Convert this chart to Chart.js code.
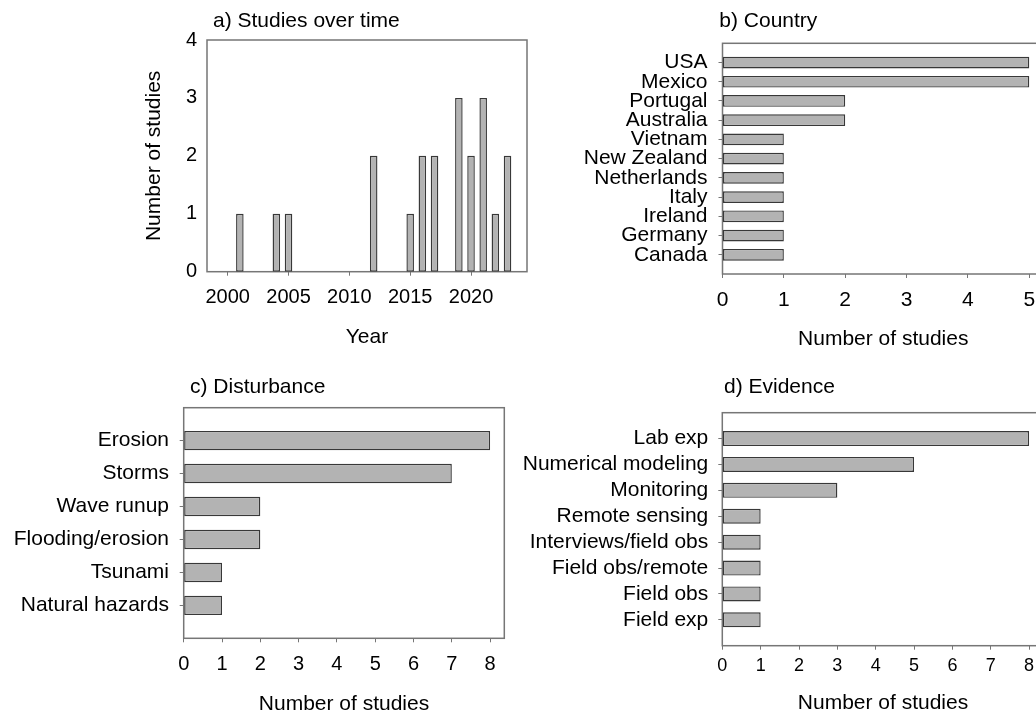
<!DOCTYPE html>
<html>
<head>
<meta charset="utf-8">
<title>Studies overview</title>
<script src="https://cdn.jsdelivr.net/npm/chart.js@4/dist/chart.umd.min.js"></script>
<style>
  html, body { margin: 0; padding: 0; width: 1036px; height: 714px; overflow: hidden; background: #fff; }
  canvas { position: absolute; left: 0; top: 0; }
</style>
</head>
<body>
<canvas id="panelA" width="1060" height="740"></canvas>
<canvas id="panelB" width="1060" height="740"></canvas>
<canvas id="panelC" width="1060" height="740"></canvas>
<canvas id="panelD" width="1060" height="740"></canvas>
<script>
// a) studies per publication year
const years = [2001, 2004, 2005, 2012, 2015, 2016, 2017, 2019, 2020, 2021, 2022, 2023];
const yearCounts = [1, 1, 1, 2, 1, 2, 2, 3, 2, 3, 1, 2];
const yearTicks = [2000, 2005, 2010, 2015, 2020];
const yearCountTicks = [0, 1, 2, 3, 4];

// b) studies per country
const countries = ['USA', 'Mexico', 'Portugal', 'Australia', 'Vietnam', 'New Zealand',
                   'Netherlands', 'Italy', 'Ireland', 'Germany', 'Canada'];
const countryCounts = [5, 5, 2, 2, 1, 1, 1, 1, 1, 1, 1];
const countryTicks = [0, 1, 2, 3, 4, 5];

// c) disturbance type
const disturbances = ['Erosion', 'Storms', 'Wave runup', 'Flooding/erosion', 'Tsunami', 'Natural hazards'];
const disturbanceCounts = [8, 7, 2, 2, 1, 1];

// d) type of evidence
const evidence = ['Lab exp', 'Numerical modeling', 'Monitoring', 'Remote sensing',
                  'Interviews/field obs', 'Field obs/remote', 'Field obs', 'Field exp'];
const evidenceCounts = [8, 5, 3, 1, 1, 1, 1, 1];
const countTicks8 = [0, 1, 2, 3, 4, 5, 6, 7, 8];

const W = 1060, H = 740;
const FONT = '"Liberation Sans", Arial, Helvetica, sans-serif';
const AXIS = '#767676';
const BAR_FILL = '#b3b3b3';
const BAR_EDGE = '#383838';

Chart.defaults.font.family = FONT;
Chart.defaults.color = '#000';

// frame around the plot area plus the panel heading
const panelPlugin = {
  id: 'panel',
  beforeDatasetsDraw(chart) {
    const { ctx, chartArea: a } = chart;
    ctx.save();
    ctx.strokeStyle = AXIS;
    ctx.lineWidth = 1.5;
    ctx.strokeRect(a.left, a.top, a.right - a.left, a.bottom - a.top);
    ctx.restore();
  },
  afterDraw(chart, args, opts) {
    const ctx = chart.ctx;
    ctx.save();
    ctx.font = opts.size + 'px ' + FONT;
    ctx.fillStyle = '#000';
    ctx.textAlign = 'left';
    ctx.textBaseline = 'alphabetic';
    ctx.fillText(opts.text, opts.x, opts.y);
    ctx.restore();
  }
};

const tickObjs = arr => arr.map(v => ({ value: v }));

// a) vertical bars on a linear year axis
new Chart(document.getElementById('panelA'), {
  type: 'bar',
  data: {
    datasets: [{
      data: years.map((y, i) => ({ x: y, y: yearCounts[i] })),
      backgroundColor: BAR_FILL,
      borderColor: BAR_EDGE,
      borderWidth: 1.4,
      borderSkipped: false,
      barPercentage: 0.62,
      categoryPercentage: 1
    }]
  },
  options: {
    responsive: false, animation: false, devicePixelRatio: 1,
    layout: { padding: { left: 141.4, top: 40, right: W - 527, bottom: H - 271.7 - 78 } },
    plugins: {
      legend: { display: false }, tooltip: { enabled: false },
      panel: { text: 'a) Studies over time', x: 213, y: 26.7, size: 21 }
    },
    scales: {
      x: {
        type: 'linear', min: 1998.3, max: 2024.6, offset: false,
        grid: { offset: false, drawOnChartArea: false, tickLength: 4, color: AXIS },
        border: { display: false },
        ticks: { padding: 10, font: { size: 20 }, callback: v => String(v) },
        afterBuildTicks: s => { s.ticks = tickObjs(yearTicks); },
        title: { display: true, text: 'Year', font: { size: 21 }, padding: 0 },
        afterFit: s => { s.height = 78; }
      },
      y: {
        type: 'linear', min: 0, max: 4,
        grid: { display: false, drawTicks: false },
        border: { display: false },
        ticks: { padding: 10, font: { size: 20 } },
        afterBuildTicks: s => { s.ticks = tickObjs(yearCountTicks); },
        title: { display: true, text: 'Number of studies', font: { size: 21 }, padding: 0 },
        afterFit: s => { s.width = 207 - 141.4; }
      }
    }
  },
  plugins: [panelPlugin]
});

// b, c, d) horizontal bars; one blank slot above and below the categories
function horizontalPanel(id, labels, values, ticks, box) {
  const slotLabels = ['', ...labels, ''];
  const slotValues = [null, ...values, null];
  const gridColor = c => (c.tick && c.tick.label === '') ? 'rgba(0,0,0,0)' : AXIS;
  new Chart(document.getElementById(id), {
    type: 'bar',
    data: {
      labels: slotLabels,
      datasets: [{
        data: slotValues,
        backgroundColor: BAR_FILL,
        borderColor: BAR_EDGE,
        borderWidth: 1.4,
        borderSkipped: false,
        barPercentage: box.bar,
        categoryPercentage: 1
      }]
    },
    options: {
      indexAxis: 'y',
      responsive: false, animation: false, devicePixelRatio: 1,
      layout: { padding: { left: 0, top: box.top, right: W - box.right, bottom: H - box.bottom - box.xh } },
      plugins: {
        legend: { display: false }, tooltip: { enabled: false },
        panel: box.heading
      },
      scales: {
        y: {
          type: 'category', offset: false,
          grid: { offset: false, drawOnChartArea: false, tickLength: 4, color: gridColor, tickColor: gridColor },
          border: { display: false },
          ticks: { autoSkip: false, padding: box.ypad, font: { size: 21 } },
          afterFit: s => { s.width = box.left; }
        },
        x: {
          type: 'linear', min: 0, max: box.xmax,
          grid: { drawOnChartArea: false, tickLength: 4, color: AXIS },
          border: { display: false },
          ticks: { padding: box.xpad, font: { size: box.xsize }, callback: v => String(v) },
          afterBuildTicks: s => { s.ticks = tickObjs(ticks); },
          title: { display: true, text: 'Number of studies', font: { size: 21 }, padding: 0 },
          afterFit: s => { s.height = box.xh; }
        }
      }
    },
    plugins: [panelPlugin]
  });
}

horizontalPanel('panelB', countries, countryCounts, countryTicks, {
  left: 722.5, right: 1044, top: 43.3, bottom: 274, xh: 78.1, xmax: 5.24,
  bar: 0.61, ypad: 11, xpad: 10, xsize: 21,
  heading: { text: 'b) Country', x: 719.3, y: 26.7, size: 21 }
});

horizontalPanel('panelC', disturbances, disturbanceCounts, countTicks8, {
  left: 183.7, right: 504.3, top: 407.7, bottom: 638.3, xh: 78.1, xmax: 8.37,
  bar: 0.59, ypad: 10.7, xpad: 10.5, xsize: 20,
  heading: { text: 'c) Disturbance', x: 190, y: 393.3, size: 21 }
});

horizontalPanel('panelD', evidence, evidenceCounts, countTicks8, {
  left: 722.3, right: 1043.7, top: 412.7, bottom: 645.7, xh: 70.6, xmax: 8.38,
  bar: 0.58, ypad: 10, xpad: 5.3, xsize: 18,
  heading: { text: 'd) Evidence', x: 724, y: 392.7, size: 21 }
});
</script>
</body>
</html>
